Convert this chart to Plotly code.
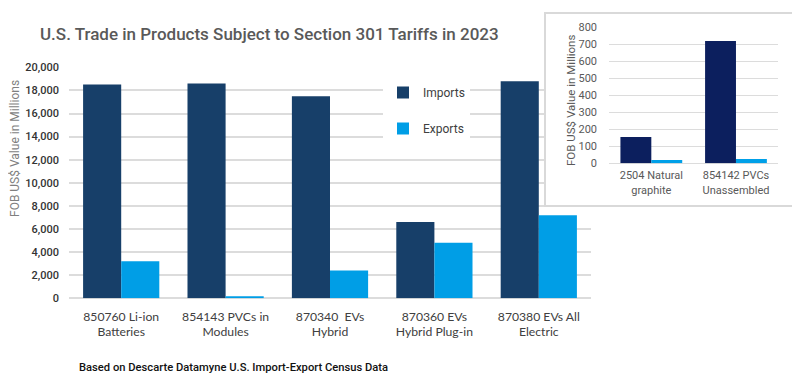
import plotly.graph_objects as go

# ---- data ----
categories = ["850760 Li-ion<br>Batteries", "854143 PVCs in<br>Modules",
              "870340\u00a0 EVs<br>Hybrid", "870360 EVs<br>Hybrid Plug-in",
              "870380 EVs All<br>Electric"]
imports = [18500, 18600, 17500, 6600, 18800]
exports = [3200, 100, 2400, 4800, 7200]

inset_categories = ["2504 Natural<br>graphite", "854142 PVCs<br>Unassembled"]
inset_imports = [155, 720]
inset_exports = [20, 25]

# page has an 8px body margin; figure is sized to fill the rest of the window
OFF = 8
W, H = 800 - OFF, 386 - OFF
IMP_C = "#173f69"
EXP_C = "#009ee6"
INSET_IMP_C = "#0c1f5e"
INSET_EXP_C = "#00a0e8"

def px_x(p):
    return (p - OFF) / W

def px_y(p):
    return (H - (p - OFF)) / H

fig = go.Figure()

# main chart
fig.add_trace(go.Bar(x=categories, y=imports, name="Imports", marker_color=IMP_C,
                     legendgroup="imp", xaxis="x", yaxis="y", marker_line_width=0))
fig.add_trace(go.Bar(x=categories, y=exports, name="Exports", marker_color=EXP_C,
                     legendgroup="exp", xaxis="x", yaxis="y", marker_line_width=0))

# box subplot (white background panel for inset)
fig.add_trace(go.Scatter(x=[0], y=[0], mode="markers", marker_opacity=0, showlegend=False,
                         hoverinfo="skip", xaxis="x2", yaxis="y2"))

# inset chart
fig.add_trace(go.Bar(x=inset_categories, y=inset_imports, name="Imports", marker_color=INSET_IMP_C,
                     showlegend=False, xaxis="x3", yaxis="y3", marker_line_width=0))
fig.add_trace(go.Bar(x=inset_categories, y=inset_exports, name="Exports", marker_color=INSET_EXP_C,
                     showlegend=False, xaxis="x3", yaxis="y3", marker_line_width=0))

grid_c = "#dcdcdc"

fig.update_layout(
    width=W, height=H,
    margin=dict(l=0, r=0, t=0, b=0),
    paper_bgcolor="white", plot_bgcolor="white",
    barmode="group", bargap=0.27, bargroupgap=0,
    font=dict(family="Roboto", color="#404040"),
    title=dict(text="U.S. Trade in Products Subject to Section 301 Tariffs in 2023",
               x=px_x(40), xanchor="left", y=px_y(34), yanchor="middle", yref="container",
               font=dict(family="Roboto", size=17, color="#595959", weight=500)),
    xaxis=dict(domain=[px_x(69), px_x(591)], anchor="y", showgrid=False, zeroline=False,
               showline=False, ticks="", automargin=False, ticklabelstandoff=9,
               tickfont=dict(family="Lato", size=12.2, color="#404040")),
    yaxis=dict(domain=[px_y(298.3), px_y(67.3)], anchor="x", range=[0, 20000], dtick=2000,
               tickformat=",", showgrid=True, gridcolor=grid_c, gridwidth=1.5,
               zeroline=True, zerolinecolor=grid_c, zerolinewidth=1.5,
               showline=False, ticks="", automargin=False, ticklabelstandoff=9,
               tickfont=dict(family="Roboto", size=11, color="#333333", weight=500)),
    xaxis2=dict(domain=[px_x(546), px_x(792)], anchor="y2", range=[0, 1],
                showgrid=False, zeroline=False, showticklabels=False, ticks="",
                showline=True, mirror=True, linecolor="#d9d9d9", linewidth=1.5),
    yaxis2=dict(domain=[px_y(205), px_y(14)], anchor="x2", range=[1, 2],
                showgrid=False, zeroline=False, showticklabels=False, ticks="",
                showline=True, mirror=True, linecolor="#d9d9d9", linewidth=1.5),
    xaxis3=dict(domain=[px_x(609), px_x(778.3)], anchor="y3", showgrid=False, zeroline=False,
                showline=False, ticks="", automargin=False, ticklabelstandoff=4,
                tickfont=dict(family="Roboto", size=11, color="#595959")),
    yaxis3=dict(domain=[px_y(163.3), px_y(27.3)], anchor="x3", range=[0, 800], dtick=100,
                showgrid=True, gridcolor=grid_c, gridwidth=1,
                zeroline=True, zerolinecolor=grid_c, zerolinewidth=1,
                showline=False, ticks="", automargin=False, ticklabelstandoff=11,
                tickfont=dict(family="Roboto", size=11, color="#595959")),
    legend=dict(x=px_x(383), xanchor="left", y=px_y(78), yanchor="top",
                bgcolor="white", traceorder="grouped", tracegroupgap=17,
                font=dict(family="Roboto", size=12, color="#404040")),
    annotations=[
        dict(text="FOB US$ Value in Millions", textangle=-90, xref="paper", yref="paper",
             x=px_x(15), y=px_y(149), xanchor="center", yanchor="middle", showarrow=False,
             font=dict(family="Roboto", size=12, color="#7f7f7f")),
        dict(text="FOB US$ Value in Millions", textangle=-90, xref="paper", yref="paper",
             x=px_x(571), y=px_y(101), xanchor="center", yanchor="middle", showarrow=False,
             font=dict(family="Roboto", size=11.5, color="#595959")),
        dict(text="Based on Descarte Datamyne U.S. Import-Export Census Data",
             xref="paper", yref="paper", x=px_x(77), y=px_y(367.7), xanchor="left",
             yanchor="middle", showarrow=False,
             font=dict(family="Roboto", size=11.2, color="#111111", weight=500)),
    ],
)

fig.write_html("out.html")
